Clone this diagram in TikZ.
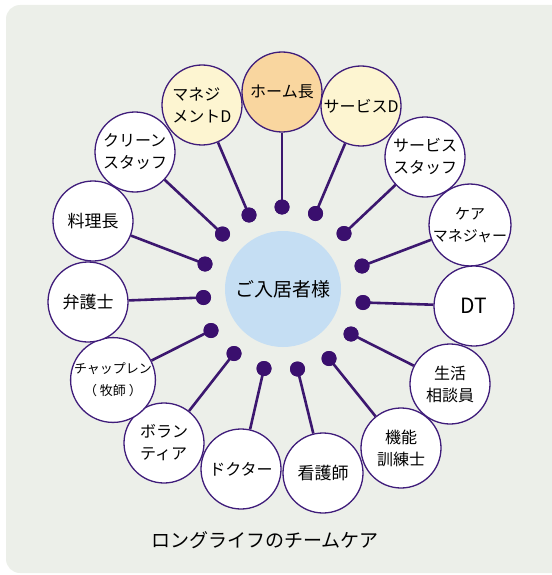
\documentclass[tikz,border=0pt]{standalone}
\usepackage{fontspec}
\setmainfont{Noto Sans CJK JP}
\definecolor{bgc}{HTML}{ECEFE9}
\definecolor{hubfill}{HTML}{C5DEF3}
\definecolor{circ}{HTML}{3F1C7A}
\definecolor{linec}{HTML}{3C176F}
\definecolor{dotc}{HTML}{3A0F6E}
\definecolor{orangef}{HTML}{F9D69F}
\definecolor{yellowf}{HTML}{FDF5D1}
\begin{document}
\begin{tikzpicture}[x=1pt,y=-1pt,
  member/.style={circle,draw=circ,line width=1.3pt,fill=white,minimum size=80pt,inner sep=0pt,font=\fontsize{16}{22}\selectfont,text=black,align=center},
  bigtext/.style={font=\fontsize{17}{22}\selectfont},
  hub/.style={circle,fill=hubfill,minimum size=116pt,inner sep=0pt,font=\fontsize{19}{23}\selectfont},
  joint/.style={circle,fill=dotc,minimum size=15pt,inner sep=0pt},
  link/.style={draw=linec,line width=2.6pt}]
\useasboundingbox (0,0) rectangle (551,575);
\fill[bgc,rounded corners=14pt] (6,5) rectangle (570,573);

% hub
\node[hub] (hub) at (283,289) {ご入居者様};

% members
\node[member,fill=orangef] (m1) at (282,92) {ホーム長};
\node[member,fill=yellowf,align=left] (m2) at (202,105) {マネジ\\メントD};
\node[member,fill=yellowf] (m3) at (361,106) {サービスD};
\node[member,align=left] (m4) at (425,157) {サービス\\スタッフ};
\node[member,font=\fontsize{15}{22}\selectfont] (m5) at (470,225) {ケア\\マネジャー};
\node[member,font=\fontsize{21}{24}\selectfont] (m6) at (474,306) {DT};
\node[member] (m7) at (450,384) {生活\\相談員};
\node[member] (m8) at (401,448) {機能\\訓練士};
\node[member,bigtext] (m9) at (323,473) {看護師};
\node[member] (m10) at (241,469) {ドクター};
\node[member,align=left] (m11) at (164,443) {ボラン\\ティア};
\node[member,font=\fontsize{13}{22}\selectfont] (m12) at (113,380) {チャップレン\\（ 牧師 ）};
\node[member,bigtext] (m13) at (88,302) {弁護士};
\node[member,bigtext] (m14) at (93,221) {料理長};
\node[member,align=left] (m15) at (135,152) {クリーン\\スタッフ};

% joints
\node[joint] (d1) at (282,207) {};
\node[joint] (d2) at (249,215) {};
\node[joint] (d3) at (315.5,213.5) {};
\node[joint] (d4) at (344,233.5) {};
\node[joint] (d5) at (362,266) {};
\node[joint] (d6) at (363,302.5) {};
\node[joint] (d7) at (351,334) {};
\node[joint] (d8) at (329,358.5) {};
\node[joint] (d9) at (297.5,369) {};
\node[joint] (d10) at (264,368.5) {};
\node[joint] (d11) at (234,353.5) {};
\node[joint] (d12) at (211,330.5) {};
\node[joint] (d13) at (203.5,297.5) {};
\node[joint] (d14) at (205,264) {};
\node[joint] (d15) at (222.5,234) {};

% links
\foreach \i in {1,...,15} {
  \draw[link] (d\i.center) -- (m\i);
}
% redraw joints on top
\foreach \i in {1,...,15} {
  \fill[dotc] (d\i) circle (7.5pt);
}

% title
\node[font=\fontsize{19}{22}\selectfont] (title) at (265,540) {ロングライフのチームケア};
\end{tikzpicture}
\end{document}
